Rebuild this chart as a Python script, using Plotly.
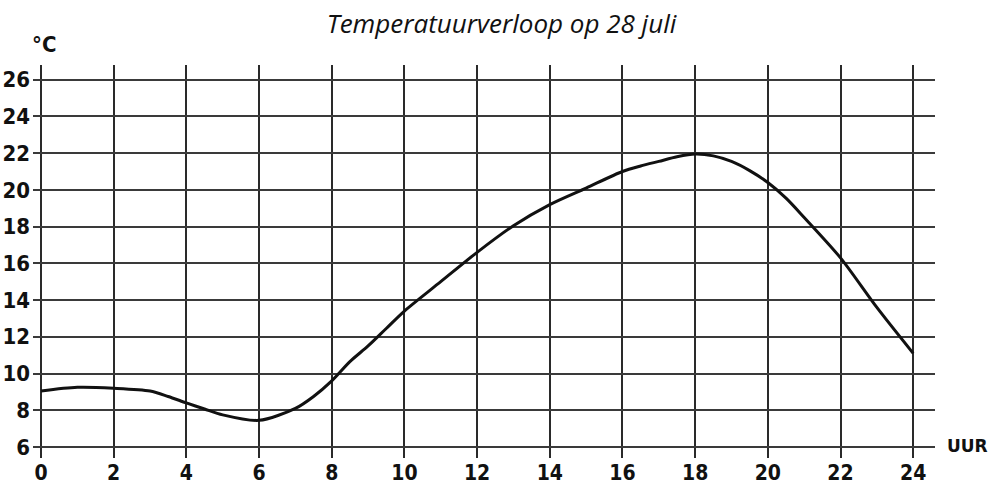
import plotly.graph_objects as go

# Hourly temperature readings for 28 July
hours = [0, 1, 2, 3, 3.5, 4, 4.5, 5, 6, 7, 7.5, 8, 8.5, 9, 9.5, 10, 11, 12,
         13, 14, 15, 16, 16.5, 17, 17.5, 18, 18.5, 19, 19.5, 20, 20.5, 21,
         22, 23, 24]
temps = [9.05, 9.25, 9.2, 9.05, 8.75, 8.4, 8.07, 7.75, 7.45, 8.1, 8.75, 9.6,
         10.65, 11.5, 12.45, 13.4, 15.0, 16.6, 18.05, 19.2, 20.1, 21.0, 21.3,
         21.55, 21.8, 21.95, 21.85, 21.55, 21.05, 20.4, 19.55, 18.5, 16.3,
         13.6, 11.1]

x_ticks = list(range(0, 25, 2))
y_ticks = list(range(6, 27, 2))

hand_family = "DejaVu Sans Condensed, DejaVu Sans"
x_font = dict(family=hand_family, size=21, color="#111", weight="bold")
y_font = dict(family=hand_family, size=22, color="#111", weight="bold")

fig = go.Figure()
fig.add_trace(go.Scatter(
    x=hours, y=temps, mode="lines",
    line=dict(color="#111", width=3, shape="spline", smoothing=0.8),
    hoverinfo="skip", showlegend=False,
))

fig.update_layout(
    width=997, height=484,
    margin=dict(l=33, r=62, t=65, b=26, autoexpand=False),
    paper_bgcolor="white", plot_bgcolor="white",
    title=dict(text="<i>Temperatuurverloop op 28 juli</i>",
               x=0.503, xanchor="center", y=0.95, yanchor="middle",
               font=dict(family="Open Sans", size=26, color="#111")),
    annotations=[
        dict(text="°C", xref="paper", yref="paper", x=0.0, y=1.0,
             xanchor="left", yanchor="bottom", xshift=-3, yshift=6,
             showarrow=False,
             font=dict(family=hand_family, size=22, color="#111",
                       weight="bold")),
        dict(text="UUR", xref="paper", yref="y", x=1.0, y=6,
             xanchor="left", yanchor="middle", xshift=10, yshift=1,
             showarrow=False,
             font=dict(family="DejaVu Sans", size=17, color="#111",
                       weight="bold")),
    ],
)

fig.update_xaxes(
    range=[-0.22, 24.6], tickvals=x_ticks, ticktext=[str(v) for v in x_ticks],
    showgrid=True, gridcolor="#2a2a2a", gridwidth=1.6,
    zeroline=False, showline=False, ticks="", tickfont=x_font,
    ticklabelstandoff=0, automargin=False, fixedrange=True,
)
fig.update_yaxes(
    range=[5.4, 26.8], tickvals=y_ticks, ticktext=[str(v) for v in y_ticks],
    showgrid=True, gridcolor="#3a3a3a", gridwidth=1.8,
    zeroline=False, showline=False, ticks="", tickfont=y_font,
    ticklabelstandoff=2, automargin=False, fixedrange=True,
)

fig.write_html("out.html")
